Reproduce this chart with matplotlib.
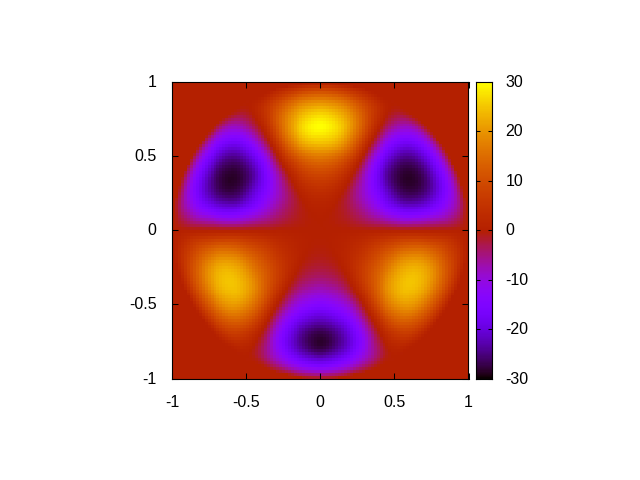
import numpy as np
import matplotlib
matplotlib.use("Agg")
import matplotlib.pyplot as plt
from matplotlib.colors import ListedColormap
from matplotlib.transforms import ScaledTranslation
from matplotlib.tri import Triangulation, CubicTriInterpolator

plt.rcParams['font.family'] = ['Liberation Sans', 'DejaVu Sans']

# Field values on a polar grid, right half of the disc;
# the picture is mirror-symmetric about x = 0.
radii = [0.1, 0.2, 0.3, 0.4, 0.5, 0.6, 0.7, 0.8, 0.9, 0.95, 1.0]
angles_deg = [90, 80, 70, 60, 50, 40, 30, 20, 10, 0,
              -10, -20, -30, -40, -50, -60, -70, -80, -90]
z_polar = [
    [0.2, 1.5, 5, 10, 17, 25.5, 30, 25.5, 15.5, 8.5, 0],
    [0.2, 1.3, 4.4, 8.8, 15, 23, 26.5, 22.5, 14, 7.5, 0],
    [0.1, 0.8, 2.6, 5.2, 9, 14, 16, 13.8, 8.5, 4.5, 0],
    [0, 0, 0, 0, 0, 0, 0, 0, 0, 0, 0],
    [-0.1, -0.8, -2.8, -6, -10.5, -14.8, -15.8, -14, -8.8, -5, 0],
    [-0.2, -1.3, -4.5, -10, -17.3, -24, -25.8, -23, -14.6, -8.2, 0],
    [-0.2, -1.5, -5, -11, -19, -26.5, -28.5, -25.5, -16, -9, 0],
    [-0.2, -1.3, -4.5, -10, -17.3, -24, -25.8, -23, -14.6, -8.2, 0],
    [-0.1, -0.8, -2.8, -6, -10.5, -14.8, -15.8, -14, -8.8, -5, 0],
    [0, 0, 0, 0, 0, 0, 0, 0, 0, 0, 0],
    [0.1, 0.7, 2.2, 5, 8.3, 12.1, 13.8, 12.1, 7.2, 3.9, 0],
    [0.2, 1.1, 3.6, 8.1, 13.5, 19.8, 22.5, 19.8, 11.7, 6.3, 0],
    [0.2, 1.3, 4, 9, 15, 22, 25, 22, 13, 7, 0],
    [0.2, 1.1, 3.6, 8.1, 13.5, 19.8, 22.5, 19.8, 11.7, 6.3, 0],
    [0.1, 0.7, 2.2, 5, 8.3, 12.1, 13.8, 12.1, 7.2, 3.9, 0],
    [0, 0, 0, 0, 0, 0, 0, 0, 0, 0, 0],
    [-0.1, -0.5, -1.8, -4.2, -7.5, -11.5, -14.5, -14, -8.8, -4.7, 0],
    [-0.1, -0.9, -3, -6.8, -12, -18.5, -23.8, -23.2, -14.5, -7.9, 0],
    [-0.1, -1, -3.5, -8, -14, -21.5, -27.5, -27.2, -17, -9, 0],
]
x_ticks = [-1, -0.5, 0, 0.5, 1]
y_ticks = [-1, -0.5, 0, 0.5, 1]
cb_ticks = [-30, -20, -10, 0, 10, 20, 30]

# scatter the table over the whole disc (right half plus its mirror image)
r = np.array(radii)
th = np.radians(angles_deg)
zp = np.array(z_polar, dtype=float)
rr, tt = np.meshgrid(r, th)
px, py, pz = rr.ravel() * np.cos(tt.ravel()), rr.ravel() * np.sin(tt.ravel()), zp.ravel()
inner = np.abs(px) > 1e-9
px = np.r_[0.0, px, -px[inner]]
py = np.r_[0.0, py, py[inner]]
pz = np.r_[0.0, pz, pz[inner]]

# sample on a 100 x 100 cell grid, as the reference's blocky raster does
edges = np.linspace(-1, 1, 101)
centres = (edges[:-1] + edges[1:]) / 2
gx, gy = np.meshgrid(centres, centres)
field = CubicTriInterpolator(Triangulation(px, py), pz, kind='geom')(gx, gy)
field = np.ma.filled(field, 0.0)
field[gx ** 2 + gy ** 2 >= 1] = 0.0

# gnuplot's default pm3d palette (rgbformulae 7,5,15)
t = np.linspace(0, 1, 512)
cmap = ListedColormap(np.c_[np.sqrt(t), t ** 3, np.clip(np.sin(2 * np.pi * t), 0, 1)])

W, H = 640, 480
fig = plt.figure(figsize=(W / 100, H / 100), dpi=100, facecolor='white')
ax = fig.add_axes([172 / W, 1 - 378.5 / H, 296.5 / W, 296.5 / H])
ax.pcolormesh(edges, edges, field, cmap=cmap, vmin=-30, vmax=30, shading='flat')
ax.set_xlim(-1, 1)
ax.set_ylim(-1, 1)
ax.set_xticks(x_ticks, [f'{v:g}' for v in x_ticks])
ax.set_yticks(y_ticks, [f'{v:g}' for v in y_ticks])
ax.tick_params(axis='both', direction='in', length=4.3, width=0.75, top=True, right=True, labelsize=11.5)
ax.tick_params(axis='x', pad=12)
ax.tick_params(axis='y', pad=11)
for s in ax.spines.values():
    s.set_linewidth(0.8)

cax = fig.add_axes([476.3 / W, 1 - 378.5 / H, 15.2 / W, 296.5 / H])
cb_edges = np.linspace(-30, 30, 257)
cb_vals = (cb_edges[:-1] + cb_edges[1:])[:, None] / 2
cax.pcolormesh([0, 1], cb_edges, cb_vals, cmap=cmap, vmin=-30, vmax=30, shading='flat')
cax.set_xlim(0, 1)
cax.set_ylim(-30, 30)
cax.set_xticks([])
cax.yaxis.tick_right()
cax.set_yticks(cb_ticks, [f'{v:g}' for v in cb_ticks])
cax.tick_params(direction='in', length=3, width=0.75, left=True, right=True, labelsize=11.5, pad=10)
for s in cax.spines.values():
    s.set_linewidth(0.8)

# the reference's vertical tick labels sit one pixel above their ticks
nudge = ScaledTranslation(0, 1 / 100, fig.dpi_scale_trans)
for a in (ax, cax):
    for lab in a.get_yticklabels():
        lab.set_transform(lab.get_transform() + nudge)

fig.savefig('out.png', dpi=100)
